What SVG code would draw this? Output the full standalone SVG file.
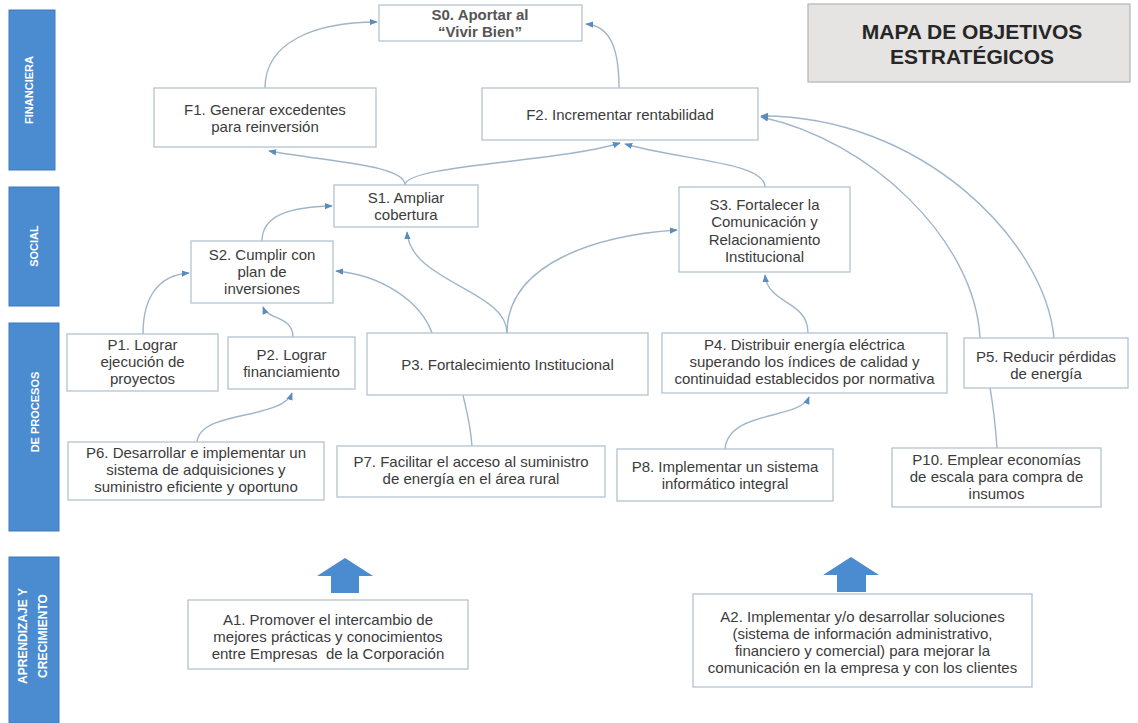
<svg xmlns="http://www.w3.org/2000/svg" width="1138" height="723" viewBox="0 0 1138 723">
<style>
.bar{fill:#4b8bd0;stroke:#3f7bbd;stroke-width:1}
.bl{font-family:"Liberation Sans",Arial,sans-serif;font-size:11px;font-weight:bold;fill:#ffffff;text-anchor:middle}
.box{fill:#ffffff;stroke:#b3c3cf;stroke-width:1.3}
.t{font-family:"Liberation Sans",Arial,sans-serif;font-size:15px;fill:#3b3b3b;text-anchor:middle}
.t0{font-family:"Liberation Sans",Arial,sans-serif;font-size:15px;font-weight:bold;fill:#555555;text-anchor:middle}
.title{font-family:"Liberation Sans",Arial,sans-serif;font-size:21px;font-weight:bold;fill:#262626;text-anchor:middle}
.c{fill:none;stroke:#9fb6c9;stroke-width:1.4}
.ca{fill:none;stroke:#9fb6c9;stroke-width:1.4;marker-end:url(#ah)}
.blk{fill:#4b8bd0}
</style>
<defs>
<marker id="ah" viewBox="0 0 10 10" refX="9" refY="5" markerWidth="8" markerHeight="8" markerUnits="userSpaceOnUse" orient="auto">
<path d="M0,1 L10,5 L0,9 z" fill="#5b8cc0"/>
</marker>
</defs>
<rect width="1138" height="723" fill="#ffffff"/>

<g id="bands">
<rect class="bar" x="9" y="10" width="46" height="160"/>
<text class="bl" transform="translate(33,90) rotate(-90)">FINANCIERA</text>
<rect class="bar" x="9" y="187" width="50" height="119"/>
<text class="bl" transform="translate(38,246) rotate(-90)">SOCIAL</text>
<rect class="bar" x="9" y="323" width="50" height="208"/>
<text class="bl" transform="translate(39,412) rotate(-90)">DE PROCESOS</text>
<rect class="bar" x="9" y="557" width="50" height="166"/>
<text class="bl" style="font-size:12px" transform="translate(27,636) rotate(-90)">APRENDIZAJE Y</text>
<text class="bl" style="font-size:12px" transform="translate(47,636) rotate(-90)">CRECIMIENTO</text>
</g>

<g id="title">
<rect x="808" y="4" width="322" height="78" fill="#e6e3e3" stroke="#b9b9b9" stroke-width="1.3"/>
<text class="title" x="972" y="39">MAPA DE OBJETIVOS</text>
<text class="title" x="972" y="64">ESTRATÉGICOS</text>
</g>

<g id="connectors">
<path class="ca" d="M265,88 C265,42 315,22 377,22"/>
<path class="ca" d="M619,88 C619,52 612,26 586,24"/>
<path class="ca" d="M405,185 C405,165 330,162 269,151"/>
<path class="ca" d="M405,185 C405,165 560,162 620,143"/>
<path class="ca" d="M765,187 C765,162 680,160 625,144"/>
<path class="ca" d="M808,333 C808,300 768,305 765,275"/>
<path class="ca" d="M997,448 C995,420 992,390 980,338 C975,240 870,140 761,117"/>
<path class="ca" d="M1054,338 C1045,240 920,115 761,116"/>
<path class="ca" d="M432,333 C420,300 380,275 336,271"/>
<path class="ca" d="M507,333 C507,290 410,282 407,232"/>
<path class="ca" d="M507,333 C507,262 600,235 677,230"/>
<path class="ca" d="M262,241 C262,215 290,207 332,206"/>
<path class="ca" d="M143,334 C143,295 160,275 189,273"/>
<path class="ca" d="M293,337 C293,316 268,320 263,307"/>
<path class="ca" d="M197,442 C200,410 282,420 292,393"/>
<path class="c" d="M472,446 C470,420 465,405 463,395"/>
<path class="ca" d="M725,449 C728,410 800,420 809,397"/>
</g>

<g id="S0"><rect class="box" x="379" y="5" width="203" height="36"/>
<text class="t0" x="480" y="20">S0. Aportar al</text>
<text class="t0" x="480" y="37">“Vivir Bien”</text></g>

<g id="F1"><rect class="box" x="154" y="88" width="222" height="59"/>
<text class="t" x="265" y="115">F1. Generar excedentes</text>
<text class="t" x="265" y="132">para reinversión</text></g>

<g id="F2"><rect class="box" x="482" y="88" width="276" height="52"/>
<text class="t" x="620" y="120">F2. Incrementar rentabilidad</text></g>

<g id="S1"><rect class="box" x="334" y="185" width="144" height="42"/>
<text class="t" x="406" y="203">S1. Ampliar</text>
<text class="t" x="406" y="220">cobertura</text></g>

<g id="S3"><rect class="box" x="679" y="187" width="171" height="85"/>
<text class="t" x="764.5" y="210">S3. Fortalecer la</text>
<text class="t" x="764.5" y="227">Comunicación y</text>
<text class="t" x="764.5" y="245">Relacionamiento</text>
<text class="t" x="764.5" y="262">Institucional</text></g>

<g id="S2"><rect class="box" x="191" y="241" width="142" height="62"/>
<text class="t" x="262" y="260">S2. Cumplir con</text>
<text class="t" x="262" y="277">plan de</text>
<text class="t" x="262" y="294">inversiones</text></g>

<g id="P1"><rect class="box" x="67" y="334" width="151" height="57"/>
<text class="t" x="142.5" y="350">P1. Lograr</text>
<text class="t" x="142.5" y="367">ejecución de</text>
<text class="t" x="142.5" y="384">proyectos</text></g>

<g id="P2"><rect class="box" x="228" y="337" width="127" height="52"/>
<text class="t" x="291.5" y="360">P2. Lograr</text>
<text class="t" x="291.5" y="377">financiamiento</text></g>

<g id="P3"><rect class="box" x="367" y="333" width="281" height="62"/>
<text class="t" x="507.5" y="370">P3. Fortalecimiento Institucional</text></g>

<g id="P4"><rect class="box" x="662" y="333" width="285" height="60"/>
<text class="t" x="804.5" y="350">P4. Distribuir energía eléctrica</text>
<text class="t" x="804.5" y="367">superando los índices de calidad y</text>
<text class="t" x="804.5" y="384">continuidad establecidos por normativa</text></g>

<g id="P5"><rect class="box" x="964" y="338" width="164" height="50"/>
<text class="t" x="1046" y="362">P5. Reducir pérdidas</text>
<text class="t" x="1046" y="379">de energía</text></g>

<g id="P6"><rect class="box" x="68" y="442" width="256" height="58"/>
<text class="t" x="196" y="458">P6. Desarrollar e implementar un</text>
<text class="t" x="196" y="475">sistema de adquisiciones y</text>
<text class="t" x="196" y="492">suministro eficiente y oportuno</text></g>

<g id="P7"><rect class="box" x="337" y="446" width="268" height="51"/>
<text class="t" x="471" y="467">P7. Facilitar el acceso al suministro</text>
<text class="t" x="471" y="484">de energía en el área rural</text></g>

<g id="P8"><rect class="box" x="617" y="449" width="216" height="52"/>
<text class="t" x="725" y="472">P8. Implementar un sistema</text>
<text class="t" x="725" y="489">informático integral</text></g>

<g id="P10"><rect class="box" x="892" y="448" width="209" height="59"/>
<text class="t" x="996.5" y="465">P10. Emplear economías</text>
<text class="t" x="996.5" y="482">de escala para compra de</text>
<text class="t" x="996.5" y="499">insumos</text></g>

<g id="arrow1"><polygon class="blk" points="345,558 373,576 359,576 359,593 331,593 331,576 317,576"/></g>
<g id="arrow2"><polygon class="blk" points="851,557 879,575 866,575 866,592 837,592 837,575 823,575"/></g>

<g id="A1"><rect class="box" x="188" y="600" width="280" height="69"/>
<text class="t" x="328" y="625">A1. Promover el intercambio de</text>
<text class="t" x="328" y="642">mejores prácticas y conocimientos</text>
<text class="t" x="328" y="659" xml:space="preserve">entre Empresas  de la Corporación</text></g>

<g id="A2"><rect class="box" x="693" y="594" width="339" height="93"/>
<text class="t" x="862.5" y="622">A2. Implementar y/o desarrollar soluciones</text>
<text class="t" x="862.5" y="639">(sistema de información administrativo,</text>
<text class="t" x="862.5" y="656">financiero y comercial) para mejorar la</text>
<text class="t" x="862.5" y="673">comunicación en la empresa y con los clientes</text></g>
</svg>
